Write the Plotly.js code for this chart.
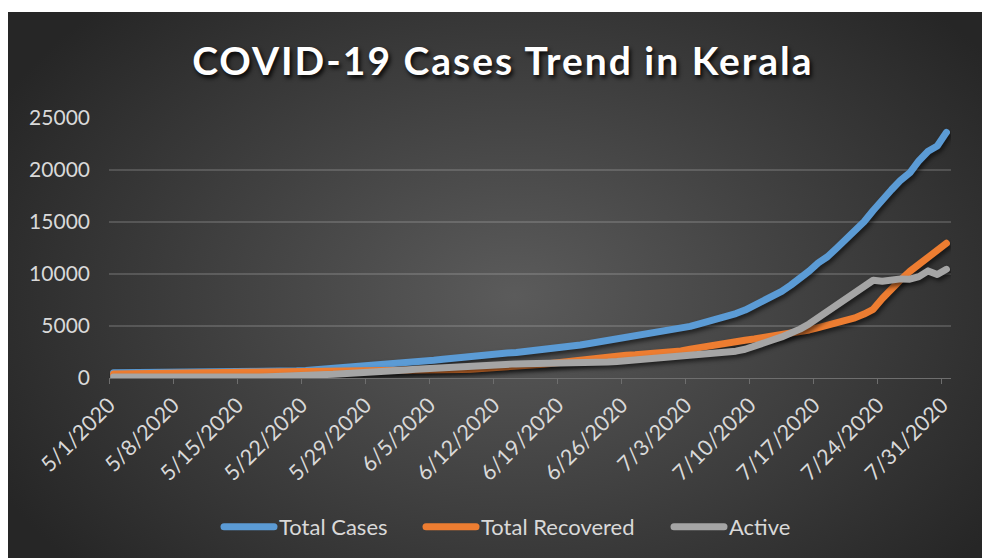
<!DOCTYPE html>
<html><head><meta charset="utf-8">
<script src="https://cdn.plot.ly/plotly-3.0.1.min.js"></script>
<style>
html,body{margin:0;padding:0;background:#fff;}
#wrap{position:absolute;left:8px;top:12px;width:974px;height:546px;
background:radial-gradient(ellipse 60% 75% at 52% 52%, #5b5b5b 0%, #262626 100%);}
#chart{width:974px;height:546px;}
.gtitle{letter-spacing:2px;}
.scatterlayer .trace{filter:drop-shadow(2px 3px 2px rgba(0,0,0,0.55));}
.scatterlayer .js-line{stroke-linejoin:round !important;stroke-linecap:round !important;}
.legendlines path.js-line{stroke-width:7px !important;stroke-linecap:round !important;}
</style></head>
<body><div id="wrap"><div id="chart"></div></div>
<script>
const startDate = '2020-05-01';
const seriesNames = ['Total Cases', 'Total Recovered', 'Active'];
const totalCases = [
 497,499,499,500,502,502,503,503,505,512,519,524,534,560,576,587,601,630,642,666,690,732,794,847,896,963,1003,1088,1150,1208,1269,
 1326,1412,1494,1588,1699,1807,1914,2005,2096,2161,2244,2322,2407,2461,2543,2622,2697,2794,2912,3039,3172,3310,3451,3603,3726,3876,4071,4189,4311,4442,
 4593,4753,4964,5204,5429,5622,5894,6195,6534,6950,7438,7873,8322,8930,9553,10275,11066,11659,12480,13274,14274,15032,16110,16995,18098,19025,19727,20896,21797,22303,23613
];
const totalRecovered = [
 392,401,462,462,469,469,474,484,485,489,489,489,489,493,493,494,497,497,497,502,510,512,515,521,532,542,552,555,565,582,590,
 608,627,651,690,713,764,804,814,842,887,922,960,1045,1083,1160,1234,1324,1414,1523,1650,1780,1880,1960,2030,2100,2180,2230,2280,2330,2400,
 2480,2600,2780,2950,3080,3250,3380,3500,3630,3750,3870,3990,4120,4250,4420,4620,4850,5050,5280,5500,5780,6150,6600,7650,8600,9450,10250,10950,11500,12300,12950
];
const active = [
 102,95,34,35,30,30,26,16,17,20,27,32,42,64,80,90,101,130,142,161,177,216,275,322,359,415,445,526,577,618,670,
 708,774,832,884,973,1029,1095,1174,1238,1256,1303,1340,1342,1358,1361,1366,1351,1358,1366,1366,1370,1405,1460,1540,1590,1660,1800,1870,1940,2000,
 2060,2100,2130,2200,2280,2330,2440,2580,2760,3000,3300,3650,3950,4300,4700,5200,5800,6500,7100,7600,8100,8700,9400,9300,9450,9530,9500,9750,10300,9950,10450
];
const colors = ['#5B9BD5', '#ED7D31', '#A5A5A5'];

// one x position per day (centre of the day slot)
const days = [];
const base = Date.UTC(2020, 4, 1);
for (let i = 0; i < totalCases.length; i++) {
  const d = new Date(base + i * 86400000);
  const s = d.getUTCFullYear() + '-' + String(d.getUTCMonth() + 1).padStart(2, '0') + '-' + String(d.getUTCDate()).padStart(2, '0');
  days.push(s + ' 12:00');
}

const font = 'Lato, "Open Sans", sans-serif';
const legendIds = ['legend', 'legend2', 'legend3'];
const seriesValues = [totalCases, totalRecovered, active];
const traces = seriesValues.map((vals, k) => ({
  type: 'scatter', mode: 'lines', name: seriesNames[k],
  x: days, y: vals, legend: legendIds[k],
  line: {color: colors[k], width: 7},
  hoverinfo: 'x+y+name'
}));

function legendAt(px) {
  return {
    orientation: 'h', xref: 'container', yref: 'container',
    x: px / 974, xanchor: 'left', y: 0.057, yanchor: 'middle',
    font: {family: font, size: 22, color: '#d9d9d9'},
    bgcolor: 'rgba(0,0,0,0)', itemwidth: 50
  };
}

const layout = {
  width: 974, height: 546,
  paper_bgcolor: 'rgba(0,0,0,0)', plot_bgcolor: 'rgba(0,0,0,0)',
  margin: {l: 101, r: 31, t: 106, b: 180},
  title: {
    text: 'COVID-19 Cases Trend in Kerala',
    x: 0.508, xanchor: 'center', y: 0.91, yanchor: 'middle',
    font: {family: font, size: 39, color: '#ffffff', weight: 700, shadow: '2px 3px 4px rgba(0,0,0,0.9)'}
  },
  xaxis: {
    type: 'date', range: ['2020-05-01', '2020-08-01'],
    tick0: startDate, dtick: 7 * 86400000, tickformat: '%-m/%-d/%Y',
    tickangle: -45, ticks: 'outside', ticklen: 5, tickcolor: '#6e6e6e', tickwidth: 1,
    showline: true, linecolor: '#6e6e6e', linewidth: 1,
    showgrid: false, zeroline: false,
    tickfont: {family: font, size: 21.5, color: '#d9d9d9'}
  },
  yaxis: {
    range: [0, 25000], dtick: 5000, tickformat: 'd',
    showgrid: true, gridcolor: 'rgba(200,200,200,0.22)', gridwidth: 1.3,
    zeroline: false, showline: false, ticks: '',
    ticklabelstandoff: 18,
    tickfont: {family: font, size: 21, color: '#d9d9d9'}
  },
  legend: legendAt(211),
  legend2: legendAt(413),
  legend3: legendAt(661),
  showlegend: true
};

Plotly.newPlot('chart', traces, layout, {displayModeBar: false, staticPlot: true});
</script></body></html>
